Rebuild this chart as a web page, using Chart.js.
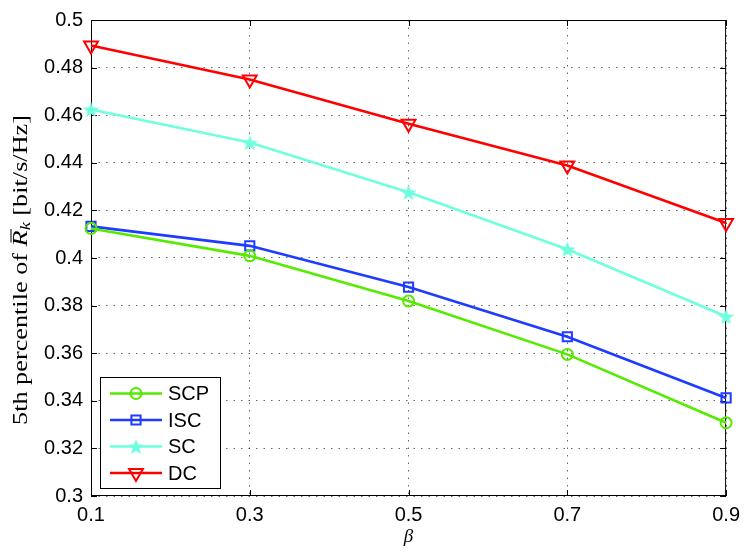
<!DOCTYPE html>
<html>
<head>
<meta charset="utf-8">
<script src="https://cdn.jsdelivr.net/npm/chart.js@4.4.1/dist/chart.umd.min.js"></script>
<style>
  html, body { margin: 0; padding: 0; background: #fff; }
  #myChart { display: block; }
</style>
</head>
<body>
<canvas id="myChart" width="747" height="556"></canvas>
<script>
// data
var betaValues = [0.1, 0.3, 0.5, 0.7, 0.9];
var scpValues = [0.4124, 0.4009, 0.3819, 0.3595, 0.3308];
var iscValues = [0.4133, 0.4051, 0.3878, 0.3669, 0.3412];
var scValues  = [0.4624, 0.4485, 0.4276, 0.4037, 0.3754];
var dcValues  = [0.4893, 0.4750, 0.4564, 0.4389, 0.4147];
var seriesNames = ["SCP", "ISC", "SC", "DC"];
var xTicks = [0.1, 0.3, 0.5, 0.7, 0.9];
var yTicks = [0.3, 0.32, 0.34, 0.36, 0.38, 0.4, 0.42, 0.44, 0.46, 0.48, 0.5];

var tickFont = { family: "'Liberation Sans', Arial, sans-serif", size: 20 };
var gridDots = [1.5, 6];

// filled five point star used as the SC marker
function makeStar(size, color) {
  var c = document.createElement("canvas");
  c.width = size; c.height = size;
  var g = c.getContext("2d");
  var cx = size / 2, cy = size / 2 + 0.8, ro = size / 2, ri = ro * 0.42;
  g.beginPath();
  for (var i = 0; i < 10; i++) {
    var r = i % 2 ? ri : ro;
    var a = -Math.PI / 2 + i * Math.PI / 5;
    g.lineTo(cx + r * Math.cos(a), cy + r * Math.sin(a));
  }
  g.closePath();
  g.fillStyle = color;
  g.fill();
  return c;
}

var starImg = makeStar(17, "rgb(112,255,222)");

function pts(vals) {
  return vals.map(function (v, i) { return { x: betaValues[i], y: v }; });
}

var lineStyles = [
  { color: "rgb(85,235,0)",    pointStyle: "circle",   radius: 5.5, rotation: 0 },
  { color: "rgb(30,60,255)",   pointStyle: "rect",     radius: 6.5, rotation: 0 },
  { color: "rgb(112,255,222)", pointStyle: starImg,    radius: 8,   rotation: 0 },
  { color: "rgb(255,0,0)",     pointStyle: "triangle", radius: 8,   rotation: 180 }
];
var allValues = [scpValues, iscValues, scValues, dcValues];

var datasets = allValues.map(function (vals, i) {
  var s = lineStyles[i];
  return {
    label: seriesNames[i],
    data: pts(vals),
    borderColor: s.color,
    backgroundColor: "rgba(0,0,0,0)",
    borderWidth: 2.6,
    pointStyle: s.pointStyle,
    pointRadius: s.radius,
    pointRotation: s.rotation,
    pointBorderColor: s.color,
    pointBackgroundColor: "rgba(0,0,0,0)",
    pointBorderWidth: 2,
    tension: 0,
    fill: false,
    clip: false
  };
});

// axis box, inward ticks, legend and axis titles
var matlabLook = {
  id: "matlabLook",
  beforeDatasetsDraw: function (chart) {
    var ctx = chart.ctx, a = chart.chartArea;
    var xs = chart.scales.x, ys = chart.scales.y;
    ctx.save();
    ctx.strokeStyle = "#000";
    ctx.lineWidth = 1;
    ctx.strokeRect(a.left + 0.5, a.top + 0.5, a.right - a.left - 1, a.bottom - a.top - 1);
    var tl = 6;
    ctx.beginPath();
    xTicks.forEach(function (v) {
      var px = Math.round(xs.getPixelForValue(v)) + 0.5;
      ctx.moveTo(px, a.bottom); ctx.lineTo(px, a.bottom - tl);
      ctx.moveTo(px, a.top); ctx.lineTo(px, a.top + tl);
    });
    yTicks.forEach(function (v) {
      var py = Math.round(ys.getPixelForValue(v)) + 0.5;
      ctx.moveTo(a.left, py); ctx.lineTo(a.left + tl, py);
      ctx.moveTo(a.right, py); ctx.lineTo(a.right - tl, py);
    });
    ctx.stroke();
    ctx.restore();
  },
  afterDraw: function (chart) {
    var ctx = chart.ctx, a = chart.chartArea;
    ctx.save();
    ctx.strokeStyle = "#000";
    ctx.lineWidth = 1;

    // legend
    var lx = 100, ly = 377, lw = 120, lh = 111;
    ctx.fillStyle = "#fff";
    ctx.fillRect(lx, ly, lw, lh);
    ctx.strokeRect(lx + 0.5, ly + 0.5, lw, lh);
    chart.data.datasets.forEach(function (ds, i) {
      var y = 393.5 + i * 26.5;
      ctx.strokeStyle = ds.borderColor;
      ctx.lineWidth = ds.borderWidth;
      ctx.beginPath();
      ctx.moveTo(110, y); ctx.lineTo(162, y);
      ctx.stroke();
      ctx.lineWidth = ds.pointBorderWidth;
      ctx.strokeStyle = ds.pointBorderColor;
      ctx.fillStyle = ds.pointBackgroundColor;
      Chart.helpers.drawPoint(ctx, {
        pointStyle: ds.pointStyle,
        rotation: ds.pointRotation,
        radius: ds.pointRadius,
        borderWidth: ds.pointBorderWidth
      }, 136, y);
      ctx.fillStyle = "#000";
      ctx.font = tickFont.size + "px " + tickFont.family;
      ctx.textBaseline = "middle";
      ctx.textAlign = "left";
      ctx.fillText(ds.label, 168, y + 1);
    });

    // x title
    ctx.fillStyle = "#000";
    ctx.font = "italic 19px 'Liberation Serif', serif";
    ctx.textAlign = "center";
    ctx.textBaseline = "middle";
    ctx.fillText("\u03B2", (a.left + a.right) / 2, 537);

    // y title with R-bar and subscript k
    ctx.translate(22, 270);
    ctx.rotate(-Math.PI / 2);
    var fs = 20;
    var normal = fs + "px 'Liberation Serif', serif";
    var ital = "italic " + fs + "px 'Liberation Serif', serif";
    var sub = "italic " + Math.round(fs * 0.72) + "px 'Liberation Serif', serif";
    var parts = [
      { t: "5th percentile of ", f: normal, dy: 0 },
      { t: "R", f: ital, dy: 0, bar: true },
      { t: "k", f: sub, dy: 4 },
      { t: " [bit/s/Hz]", f: normal, dy: 0 }
    ];
    var total = 0;
    parts.forEach(function (p) { ctx.font = p.f; p.w = ctx.measureText(p.t).width; total += p.w; });
    ctx.scale(310 / total, 1);
    var x = -total / 2;
    ctx.textAlign = "left";
    parts.forEach(function (p) {
      ctx.font = p.f;
      ctx.fillText(p.t, x, p.dy);
      if (p.bar) {
        ctx.lineWidth = 1;
        ctx.strokeStyle = "#000";
        ctx.beginPath();
        ctx.moveTo(x + 3, -fs * 0.55);
        ctx.lineTo(x + p.w + 1, -fs * 0.55);
        ctx.stroke();
      }
      x += p.w;
    });
    ctx.restore();
  }
};

var ctx = document.getElementById("myChart");
var myChart = new Chart(ctx, {
  type: "line",
  data: { datasets: datasets },
  options: {
    responsive: false,
    animation: false,
    devicePixelRatio: 1,
    layout: { padding: { left: 0, right: 15, top: 12, bottom: 0 } },
    plugins: { legend: { display: false }, tooltip: { enabled: false } },
    scales: {
      x: {
        type: "linear",
        min: 0.1, max: 0.9,
        afterBuildTicks: function (s) { s.ticks = xTicks.map(function (v) { return { value: v }; }); },
        afterFit: function (s) { s.height = 60; },
        border: { display: false, dash: gridDots },
        grid: { color: "rgba(0,0,0,0.6)", lineWidth: 1, drawTicks: false },
        ticks: { color: "#000", font: tickFont, padding: 7, maxRotation: 0, autoSkip: false,
                 callback: function (v) { return String(v); } }
      },
      y: {
        type: "linear",
        min: 0.3, max: 0.5,
        afterBuildTicks: function (s) { s.ticks = yTicks.map(function (v) { return { value: v }; }); },
        afterFit: function (s) { s.width = 91; },
        border: { display: false, dash: gridDots },
        grid: { color: "rgba(0,0,0,0.6)", lineWidth: 1, drawTicks: false },
        ticks: { color: "#000", font: tickFont, padding: 8, autoSkip: false,
                 callback: function (v) { return String(v); } }
      }
    }
  },
  plugins: [matlabLook]
});
</script>
</body>
</html>
